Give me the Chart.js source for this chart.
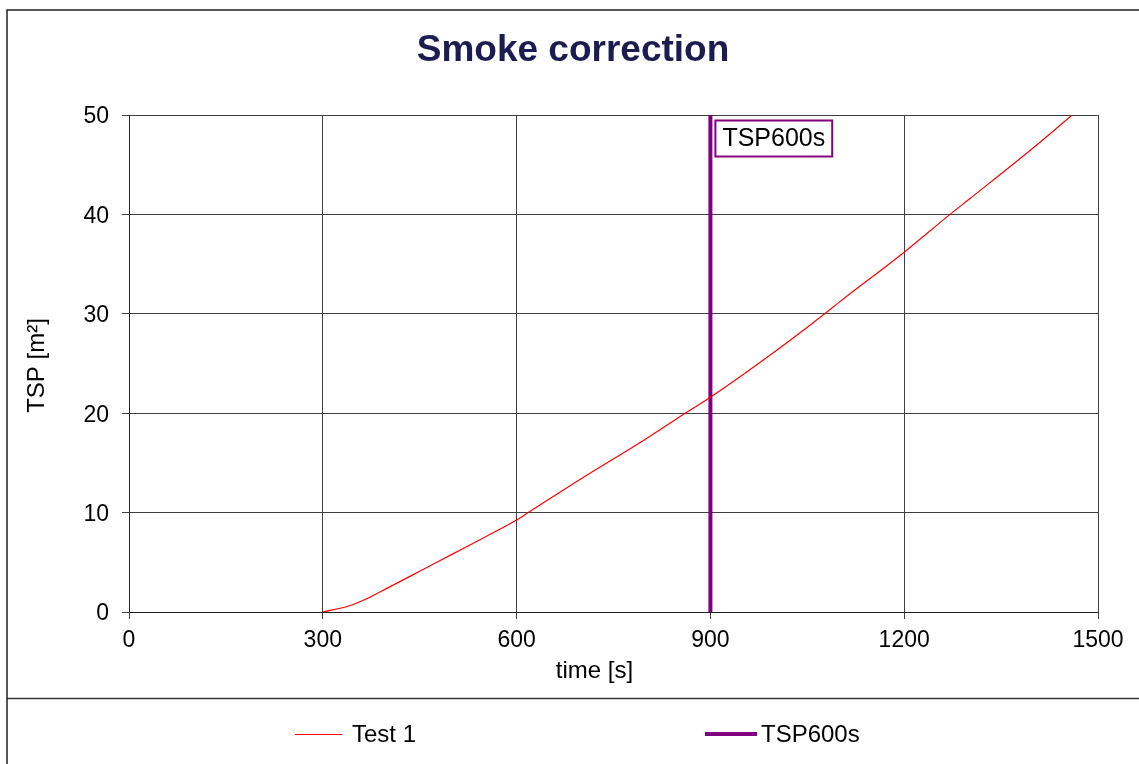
<!DOCTYPE html>
<html>
<head>
<meta charset="utf-8">
<script src="https://cdn.jsdelivr.net/npm/chart.js@4.4.1/dist/chart.umd.min.js"></script>
<style>
  html, body { margin: 0; padding: 0; background: #ffffff; }
  #wrap { position: relative; width: 1139px; height: 764px; }
</style>
</head>
<body>
<div id="wrap"><canvas id="c" width="1139" height="764"></canvas></div>
<script>
// ---- data ----
const chartTitle = "Smoke correction";
const xTitle = "time [s]";
const yTitle = "TSP [m²]";
const testLabel = "Test 1";
const markerLabel = "TSP600s";
const timeS = [300, 340, 373, 400, 450, 500, 550, 600, 618, 700, 800, 861, 900, 1000, 1077, 1100, 1200, 1271, 1300, 1400, 1460];
const tspM2 = [0, 0.6, 1.5, 2.4, 4.1, 5.8, 7.5, 9.25, 10, 13.4, 17.4, 20, 21.6, 26.2, 30, 31.2, 36.2, 40, 41.5, 46.7, 50];
const markerTime = [900, 900];
const markerTsp = [0, 50];
const xMin = 0, xMax = 1500, xStep = 300;
const yMin = 0, yMax = 50, yStep = 10;

const RED = "#ff0000";
const PURPLE = "#800080";
const GRID = "#404040";
const FONT = "'Liberation Sans', Arial, sans-serif";

const testPoints = timeS.map((t, i) => ({ x: t, y: tspM2[i] }));
const markerPoints = markerTime.map((t, i) => ({ x: t, y: markerTsp[i] }));

const decor = {
  id: 'decor',
  afterDraw(chart) {
    const ctx = chart.ctx;
    const xs = chart.scales.x, ys = chart.scales.y;
    const ca = chart.chartArea;
    ctx.save();
    // outer frame
    ctx.strokeStyle = "#222";
    ctx.lineWidth = 1.5;
    ctx.strokeRect(7, 10, 1150, 800);
    // legend separator
    ctx.strokeStyle = "#333";
    ctx.lineWidth = 1.5;
    ctx.beginPath(); ctx.moveTo(7, 698.5); ctx.lineTo(1139, 698.5); ctx.stroke();

    // title
    ctx.fillStyle = "#1c1c50";
    ctx.font = "bold 37px " + FONT;
    ctx.textAlign = "center"; ctx.textBaseline = "middle";
    ctx.fillText(chartTitle, 573, 51);

    // axis titles
    ctx.fillStyle = "#000";
    ctx.font = "24px " + FONT;
    ctx.fillText(xTitle, (ca.left + ca.right) / 2 - 19, 671);
    ctx.save();
    ctx.translate(37, (ca.top + ca.bottom) / 2 + 2);
    ctx.rotate(-Math.PI / 2);
    ctx.fillText(yTitle, 0, 0);
    ctx.restore();

    // annotation box for marker
    const mx = xs.getPixelForValue(markerTime[0]);
    const bx = mx + 5, by = ca.top + 5.5;
    ctx.font = "25px " + FONT;
    const tw = ctx.measureText(markerLabel).width;
    const bw = tw + 14, bh = 36;
    ctx.fillStyle = "#fff";
    ctx.fillRect(bx, by, bw, bh);
    ctx.strokeStyle = PURPLE; ctx.lineWidth = 2;
    ctx.strokeRect(bx, by, bw, bh);
    ctx.fillStyle = "#000";
    ctx.textAlign = "left";
    ctx.fillText(markerLabel, bx + 7, by + bh / 2 + 1);

    // legend
    const ly = 734;
    ctx.strokeStyle = RED; ctx.lineWidth = 1;
    ctx.beginPath(); ctx.moveTo(295, ly + 0.5); ctx.lineTo(342, ly + 0.5); ctx.stroke();
    ctx.fillStyle = "#000";
    ctx.font = "24px " + FONT;
    ctx.fillText(testLabel, 352, ly + 1);
    ctx.strokeStyle = PURPLE; ctx.lineWidth = 4;
    ctx.beginPath(); ctx.moveTo(705, ly); ctx.lineTo(757, ly); ctx.stroke();
    ctx.fillText(markerLabel, 761, ly + 1);
    ctx.restore();
  }
};

new Chart(document.getElementById('c'), {
  type: 'scatter',
  data: {
    datasets: [
      { label: testLabel, data: testPoints, showLine: true, borderColor: RED, backgroundColor: RED,
        borderWidth: 1.2, pointRadius: 0, cubicInterpolationMode: 'monotone' },
      { label: markerLabel, data: markerPoints, showLine: true, borderColor: PURPLE, backgroundColor: PURPLE,
        borderWidth: 4, pointRadius: 0 }
    ]
  },
  options: {
    responsive: false,
    animation: false,
    layout: { padding: { left: 0, top: 115, right: 41, bottom: 0 } },
    plugins: { legend: { display: false }, title: { display: false }, tooltip: { enabled: false } },
    scales: {
      x: {
        type: 'linear', min: xMin, max: xMax,
        afterFit(s) { s.height = 152; },
        ticks: { stepSize: xStep, color: '#000', font: { family: FONT, size: 23 }, padding: 8, maxRotation: 0,
                 callback: (v) => String(v) },
        grid: { color: GRID, lineWidth: 1, tickLength: 7, tickColor: GRID },
        border: { color: '#222', width: 1 }
      },
      y: {
        type: 'linear', min: yMin, max: yMax,
        afterFit(s) { s.width = 129; },
        ticks: { stepSize: yStep, color: '#000', font: { family: FONT, size: 23 }, padding: 13, labelOffset: 2,
                 callback: (v) => String(v) },
        grid: { color: GRID, lineWidth: 1, tickLength: 7, tickColor: GRID },
        border: { color: '#222', width: 1 }
      }
    }
  },
  plugins: [decor]
});
</script>
</body>
</html>
